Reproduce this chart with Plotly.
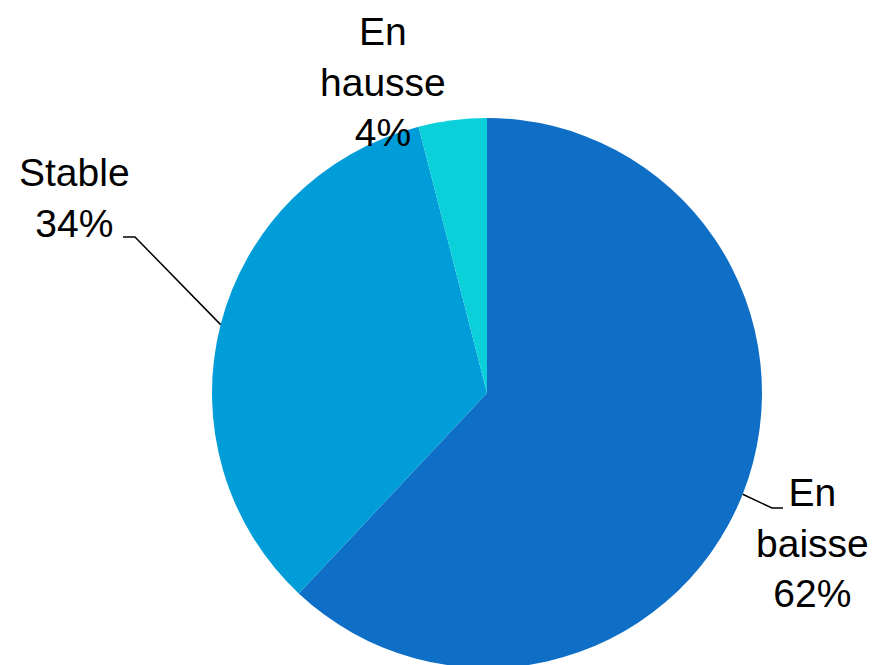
import math
import plotly.graph_objects as go

# ---- data ----
categories = ["En baisse", "Stable", "En hausse"]
label_lines = ["En<br>baisse", "Stable", "En<br>hausse"]
values = [62, 34, 4]
colors = ["#0F6FC6", "#009DD9", "#0BD0D9"]

# ---- layout constants (window pixels) ----
W, H = 881, 665
OFF = 8  # page body margin offset
CX, CY, R = 487, 393, 275  # pie centre / radius in window px
FONT = dict(family="Liberation Sans, Arial, sans-serif", size=39, color="#000000")

# label block centres (px) and leader-line elbows (px); None = no leader
label_pos = [(812, 543), (74, 198), (383, 82)]
leaders = [((772, 508), (783, 508)), ((135, 237), (123, 237)), None]


def px(x):
    return (x - OFF) / W


def py(y):
    return (H - (y - OFF)) / H


fig = go.Figure(
    go.Pie(
        labels=categories,
        values=values,
        sort=False,
        direction="clockwise",
        rotation=0,
        marker=dict(colors=colors, line=dict(width=0)),
        textinfo="none",
        hoverinfo="label+percent",
        domain=dict(x=[px(CX - R), px(CX + R)], y=[py(CY + R), py(CY - R)]),
        showlegend=False,
    )
)

total = sum(values)
annotations = []
shapes = []
start = 0.0
for i, v in enumerate(values):
    frac = v / total
    mid = (start + frac / 2) * 2 * math.pi  # clockwise from 12 o'clock
    start += frac
    pct = round(frac * 100)
    lx, ly = label_pos[i]
    annotations.append(
        dict(
            x=px(lx), y=py(ly), xref="paper", yref="paper",
            text=f"{label_lines[i]}<br>{pct}%",
            showarrow=False, xanchor="center", yanchor="middle",
            align="center", font=FONT,
        )
    )
    if leaders[i] is not None:
        ex = CX + R * math.sin(mid)
        ey = CY - R * math.cos(mid)
        (bx, by), (tx, ty) = leaders[i]
        path = f"M {px(ex)} {py(ey)} L {px(bx)} {py(by)} L {px(tx)} {py(ty)}"
        shapes.append(
            dict(type="path", xref="paper", yref="paper", path=path,
                 line=dict(color="#000000", width=1.5))
        )

fig.update_layout(
    width=W, height=H,
    margin=dict(l=0, r=0, t=0, b=0),
    paper_bgcolor="#FFFFFF",
    plot_bgcolor="#FFFFFF",
    annotations=annotations,
    shapes=shapes,
)

fig.write_html("out.html")
